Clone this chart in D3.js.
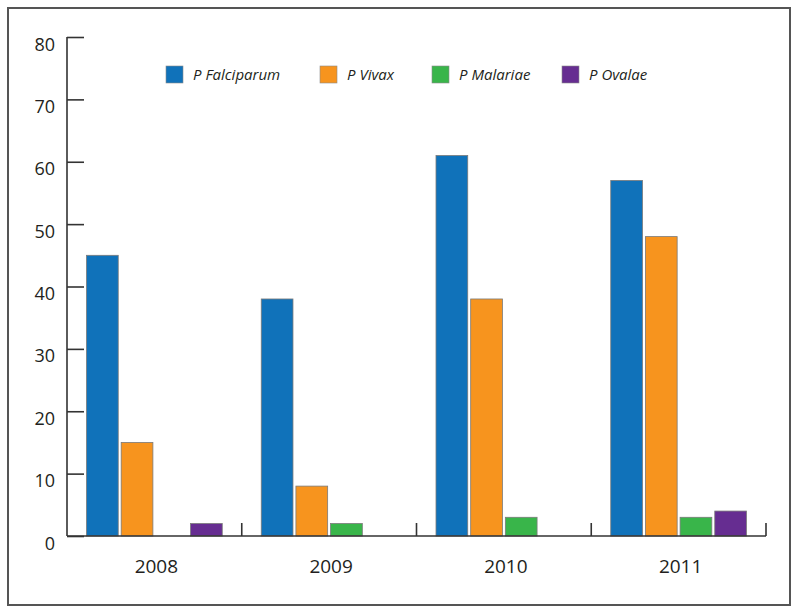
<!DOCTYPE html>
<html>
<head>
<meta charset="utf-8">
<script src="https://cdn.jsdelivr.net/npm/d3@7"></script>
<style>
  body { margin: 0; background: #fff; }
  svg { display: block; }
  .legend text { font-family: "Open Sans", sans-serif; font-style: italic; font-size: 15px; fill: #231f20; }
</style>
</head>
<body>
<svg id="chart" width="799" height="615"></svg>
<script>
var years = ["2008", "2009", "2010", "2011"];
var species = ["P Falciparum", "P Vivax", "P Malariae", "P Ovalae"];
var falciparum = [45, 38, 61, 57];
var vivax = [15, 8, 38, 48];
var malariae = [0, 2, 3, 3];
var ovalae = [2, 0, 0, 4];
var yTicks = [0, 10, 20, 30, 40, 50, 60, 70, 80];
var colors = ["#1072ba", "#f7941e", "#39b54a", "#662d91"];

var series = [falciparum, vivax, malariae, ovalae];

var svg = d3.select("#chart");

// outer frame
svg.append("rect")
   .attr("x", 8).attr("y", 8)
   .attr("width", 782).attr("height", 597)
   .attr("fill", "none")
   .attr("stroke", "#555")
   .attr("stroke-width", 2);

var LEFT = 67, RIGHT = 766, TOP = 37, BOTTOM = 536;

var x = d3.scaleBand()
          .domain(years)
          .range([LEFT, RIGHT])
          .padding(0);

var inner = d3.scaleBand()
              .domain(species)
              .range([19.5, x.bandwidth() - 19.5])
              .paddingInner(0.085)
              .paddingOuter(0);

var y = d3.scaleLinear()
          .domain([0, 80])
          .range([BOTTOM, TOP]);

// bars
var groups = svg.append("g")
  .selectAll("g")
  .data(years)
  .enter().append("g")
    .attr("transform", function(d){ return "translate(" + x(d) + ",0)"; });

groups.selectAll("rect")
  .data(function(d, i){
    return species.map(function(s, k){ return {s: s, v: series[k][i], c: colors[k]}; });
  })
  .enter().filter(function(d){ return d.v > 0; })
  .append("rect")
    .attr("x", function(d){ return inner(d.s); })
    .attr("y", function(d){ return y(d.v); })
    .attr("width", inner.bandwidth())
    .attr("height", function(d){ return BOTTOM - y(d.v); })
    .attr("fill", function(d){ return d.c; })
    .attr("stroke", "#7a7a7a")
    .attr("stroke-width", 0.8);

// y axis
var yAxis = svg.append("g")
  .attr("transform", "translate(" + LEFT + ",0)")
  .call(d3.axisRight(y).tickValues(yTicks).tickSize(17).tickFormat(""));
yAxis.select(".domain").attr("d", "M0," + TOP + "V" + BOTTOM);
yAxis.selectAll("line, path").attr("stroke", "#333").attr("stroke-width", 1.6);

svg.append("g")
  .selectAll("text")
  .data(yTicks)
  .enter().append("text")
    .attr("x", 55)
    .attr("y", function(d){ return y(d) + 13.5; })
    .attr("text-anchor", "end")
    .attr("font-family", "Open Sans, sans-serif")
    .attr("font-size", 18)
    .attr("fill", "#231f20")
    .text(function(d){ return d; });

// x axis with boundary ticks pointing up
var bounds = years.map(function(d){ return x(d) + x.bandwidth(); });
var xAxis = svg.append("g");
xAxis.append("line")
  .attr("x1", LEFT).attr("x2", RIGHT)
  .attr("y1", BOTTOM).attr("y2", BOTTOM)
  .attr("stroke", "#333").attr("stroke-width", 1.6);
xAxis.selectAll(".bound")
  .data(bounds)
  .enter().append("line")
    .attr("class", "bound")
    .attr("x1", function(d){ return d; }).attr("x2", function(d){ return d; })
    .attr("y1", BOTTOM).attr("y2", BOTTOM - 13)
    .attr("stroke", "#333").attr("stroke-width", 1.6);
xAxis.selectAll("text")
  .data(years)
  .enter().append("text")
    .attr("x", function(d){ return x(d) + x.bandwidth() / 2 + 2; })
    .attr("y", 573)
    .attr("text-anchor", "middle")
    .attr("font-family", "Open Sans, sans-serif")
    .attr("font-size", 19)
    .attr("fill", "#231f20")
    .text(function(d){ return d; });

// legend
var legendX = [166, 320, 432, 562];
var legend = svg.append("g")
  .attr("class", "legend")
  .selectAll("g")
  .data(species)
  .enter().append("g")
    .attr("transform", function(d, i){ return "translate(" + legendX[i] + ",66)"; });

legend.append("rect")
  .attr("width", 17).attr("height", 17)
  .attr("fill", function(d, i){ return colors[i]; })
  .attr("stroke", "#8a8a8a")
  .attr("stroke-width", 0.6);

legend.append("text")
  .attr("x", 27)
  .attr("y", 14)
  .text(function(d){ return d; });
</script>
</body>
</html>
